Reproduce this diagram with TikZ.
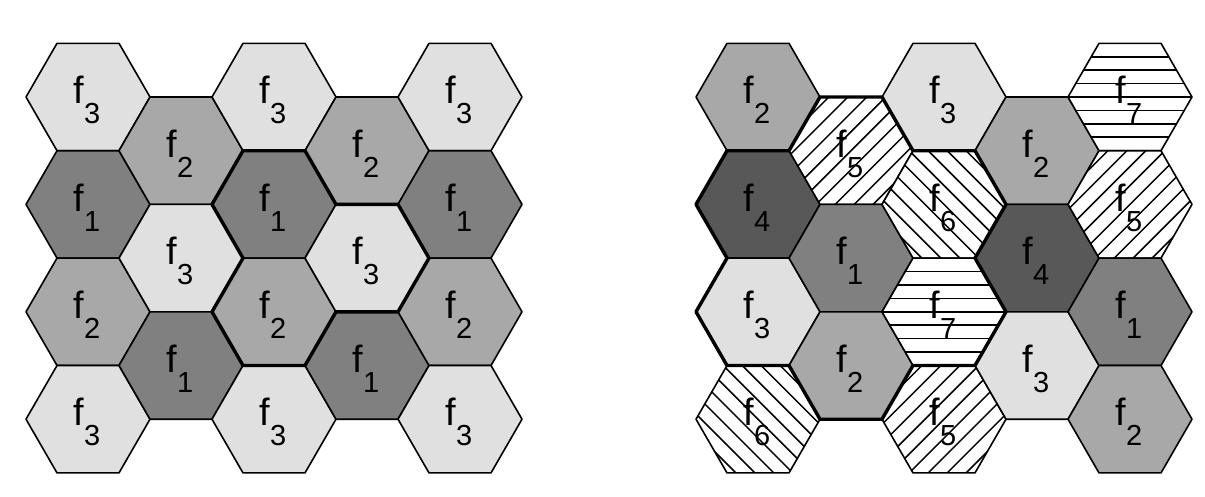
\documentclass[tikz,border=0pt]{standalone}
\usepackage{fontspec}
\setmainfont{Liberation Sans}
\usepackage{tikz}
\usetikzlibrary{calc}
\definecolor{cellone}{RGB}{128,128,128}
\definecolor{celltwo}{RGB}{168,168,168}
\definecolor{cellthree}{RGB}{224,224,224}
\definecolor{cellfour}{RGB}{88,88,88}
\newcommand{\hexR}{62}
\newcommand{\hexH}{53.7}
% \hexcell{name}{centre}{style}{index}
\newcommand{\hexcell}[4]{%
  \coordinate (#1) at (#2);
  \coordinate (#1-w) at ($(#1)+(-\hexR,0)$);
  \coordinate (#1-nw) at ($(#1)+(-\hexR/2,-\hexH)$);
  \coordinate (#1-ne) at ($(#1)+(\hexR/2,-\hexH)$);
  \coordinate (#1-e) at ($(#1)+(\hexR,0)$);
  \coordinate (#1-se) at ($(#1)+(\hexR/2,\hexH)$);
  \coordinate (#1-sw) at ($(#1)+(-\hexR/2,\hexH)$);
  \path[hexbase,#3] (#1-w) -- (#1-nw) -- (#1-ne) -- (#1-e) -- (#1-se) -- (#1-sw) -- cycle;
  \node[freq] (#1-lbl) at ($(#1)+(-1,3)$) {f\raisebox{-20pt}{\fontsize{29}{29}\selectfont #4}};
}
% \hatch{name}{angle}
\newcommand{\hatch}[2]{%
  \begin{scope}
    \clip (#1-w) -- (#1-nw) -- (#1-ne) -- (#1-e) -- (#1-se) -- (#1-sw) -- cycle;
    \begin{scope}[shift={(#1)},rotate=#2]
      \foreach \k in {-6,...,6}
        \draw[hatchline] (-90,\k*13.4) -- (90,\k*13.4);
    \end{scope}
  \end{scope}
}

\begin{document}
\begin{tikzpicture}[
  x=1pt,y=-1pt,
  hexbase/.style={draw=black,line width=1.6pt,line join=round},
  fone/.style={fill=cellone},
  ftwo/.style={fill=celltwo},
  fthree/.style={fill=cellthree},
  ffour/.style={fill=cellfour},
  fhatch/.style={fill=white},
  hatchline/.style={draw=black,line width=1.5pt},
  freq/.style={inner sep=0pt,font=\fontsize{38}{38}\selectfont},
  cluster/.style={draw=black,line width=3.4pt,line join=round},
]
  \useasboundingbox (0,0) rectangle (1205,496);

  % reuse pattern with three frequencies
  \hexcell{L11}{88,97}{fthree}{3}
  \hexcell{L12}{88,204.4}{fone}{1}
  \hexcell{L13}{88,311.8}{ftwo}{2}
  \hexcell{L14}{88,419.2}{fthree}{3}
  \hexcell{L21}{181,150.7}{ftwo}{2}
  \hexcell{L22}{181,258.1}{fthree}{3}
  \hexcell{L23}{181,365.5}{fone}{1}
  \hexcell{L31}{274,97}{fthree}{3}
  \hexcell{L32}{274,204.4}{fone}{1}
  \hexcell{L33}{274,311.8}{ftwo}{2}
  \hexcell{L34}{274,419.2}{fthree}{3}
  \hexcell{L41}{367,150.7}{ftwo}{2}
  \hexcell{L42}{367,258.1}{fthree}{3}
  \hexcell{L43}{367,365.5}{fone}{1}
  \hexcell{L51}{460,97}{fthree}{3}
  \hexcell{L52}{460,204.4}{fone}{1}
  \hexcell{L53}{460,311.8}{ftwo}{2}
  \hexcell{L54}{460,419.2}{fthree}{3}

  \draw[cluster] (L32-nw) -- (L32-ne) -- (L42-nw) -- (L42-ne) -- (L42-e) -- (L42-se)
    -- (L42-sw) -- (L33-se) -- (L33-sw) -- (L33-w) -- (L33-nw) -- (L32-w) -- cycle;

  % reuse pattern with seven frequencies
  \hexcell{R11}{758,97}{ftwo}{2}
  \hexcell{R12}{758,204.4}{ffour}{4}
  \hexcell{R13}{758,311.8}{fthree}{3}
  \hexcell{R14}{758,419.2}{fhatch}{6}
  \hexcell{R21}{851,150.7}{fhatch}{5}
  \hexcell{R22}{851,258.1}{fone}{1}
  \hexcell{R23}{851,365.5}{ftwo}{2}
  \hexcell{R31}{944,97}{fthree}{3}
  \hexcell{R32}{944,204.4}{fhatch}{6}
  \hexcell{R33}{944,311.8}{fhatch}{7}
  \hexcell{R34}{944,419.2}{fhatch}{5}
  \hexcell{R41}{1037,150.7}{ftwo}{2}
  \hexcell{R42}{1037,258.1}{ffour}{4}
  \hexcell{R43}{1037,365.5}{fthree}{3}
  \hexcell{R51}{1130,97}{fhatch}{7}
  \hexcell{R52}{1130,204.4}{fhatch}{5}
  \hexcell{R53}{1130,311.8}{fone}{1}
  \hexcell{R54}{1130,419.2}{ftwo}{2}

  \hatch{R21}{45}
  \hatch{R34}{45}
  \hatch{R52}{45}
  \hatch{R14}{-45}
  \hatch{R32}{-45}
  \hatch{R33}{0}
  \hatch{R51}{0}

  \draw[cluster] (R12-w) -- (R12-nw) -- (R21-w) -- (R21-nw) -- (R21-ne) -- (R32-nw)
    -- (R32-ne) -- (R32-e) -- (R33-ne) -- (R33-e) -- (R33-se) -- (R23-e) -- (R23-se)
    -- (R23-sw) -- (R13-se) -- (R13-sw) -- (R13-w) -- (R12-sw) -- cycle;
\end{tikzpicture}
\end{document}
